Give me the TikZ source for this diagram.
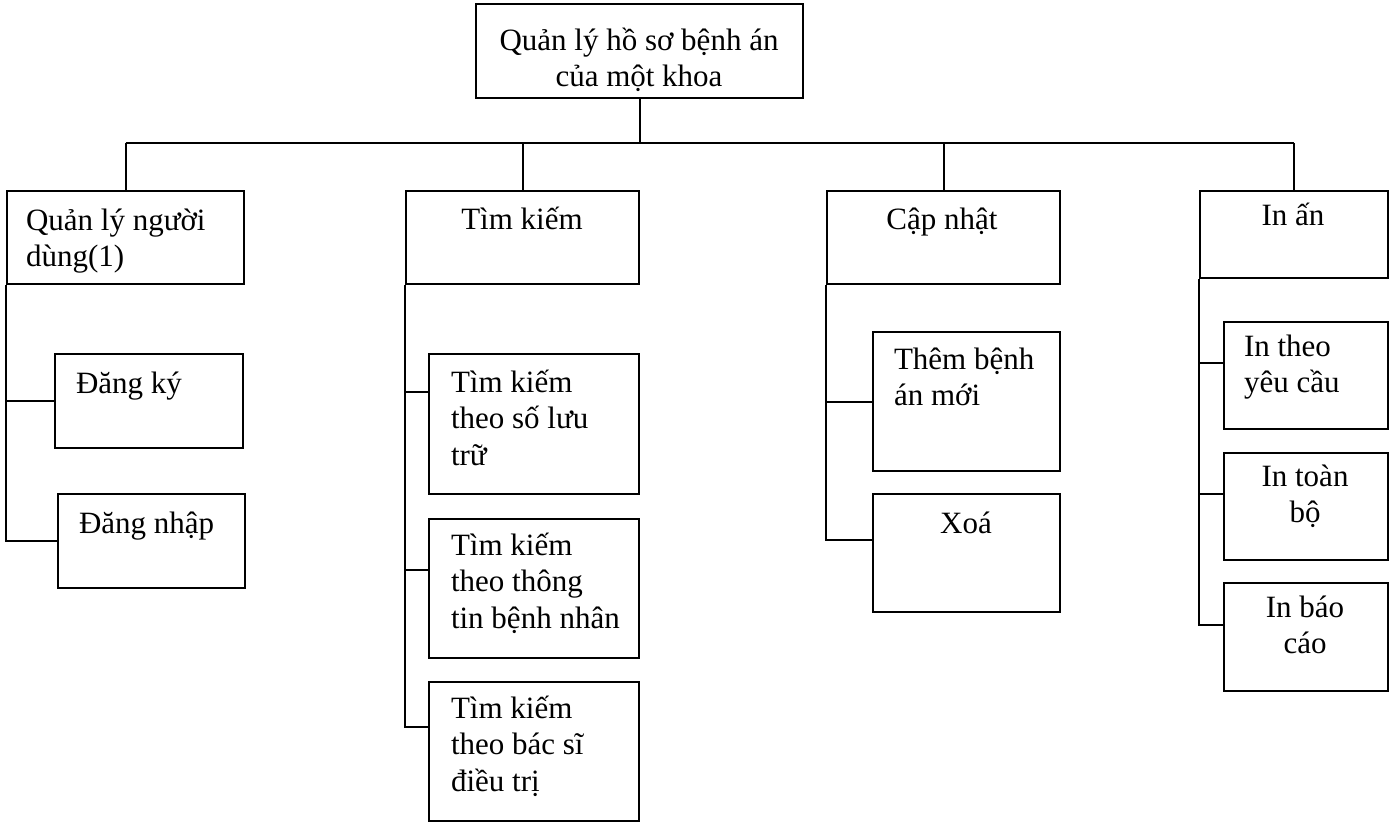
\documentclass[tikz,border=0pt]{standalone}
\usepackage{fontspec}
\setmainfont{Liberation Serif}
\begin{document}
\begin{tikzpicture}[x=1pt,y=-1pt,line width=2pt,
  box/.style={draw,line width=2pt,inner sep=0pt,anchor=north west},
  txt/.style={inner sep=0pt,font=\fontsize{31}{36.5}\selectfont},
  conn/.style={draw,line width=2pt}]
\useasboundingbox (0,0) rectangle (1394,823);
% boxes
\node[box,minimum width=327,minimum height=94] (top) at (475,3) {};
\node[box,minimum width=237,minimum height=93] (b1) at (6,190) {};
\node[box,minimum width=233,minimum height=93] (b2) at (405,190) {};
\node[box,minimum width=233,minimum height=93] (b3) at (826,190) {};
\node[box,minimum width=188,minimum height=87] (b4) at (1199,190) {};
\node[box,minimum width=188,minimum height=94] (c11) at (54,353) {};
\node[box,minimum width=187,minimum height=94] (c12) at (57,493) {};
\node[box,minimum width=210,minimum height=140] (c21) at (428,353) {};
\node[box,minimum width=210,minimum height=139] (c22) at (428,518) {};
\node[box,minimum width=210,minimum height=139] (c23) at (428,681) {};
\node[box,minimum width=187,minimum height=139] (c31) at (872,331) {};
\node[box,minimum width=187,minimum height=118] (c32) at (872,493) {};
\node[box,minimum width=164,minimum height=107] (c41) at (1223,321) {};
\node[box,minimum width=164,minimum height=107] (c42) at (1223,452) {};
\node[box,minimum width=164,minimum height=108] (c43) at (1223,582) {};
% texts (anchor base = baseline of the last line)
\node[txt,align=center,anchor=base] (ttop) at (639,86.5) {Quản lý hồ sơ bệnh án\\của một khoa};
\node[txt,align=left,anchor=base west] (t1) at (25,266.5) {Quản lý người\\dùng(1)};
\node[txt,anchor=base] (t2) at (522,229) {Tìm kiếm};
\node[txt,anchor=base] (t3) at (942,229) {Cập nhật};
\node[txt,anchor=base] (t4) at (1293,225) {In ấn};
\node[txt,anchor=base west] (t11) at (75,393) {Đăng ký};
\node[txt,anchor=base west] (t12) at (78,533) {Đăng nhập};
\node[txt,align=left,anchor=base west] (t21) at (450,465) {Tìm kiếm\\theo số lưu\\trữ};
\node[txt,align=left,anchor=base west] (t22) at (450,628) {Tìm kiếm\\theo thông\\tin bệnh nhân};
\node[txt,align=left,anchor=base west] (t23) at (450,791) {Tìm kiếm\\theo bác sĩ\\điều trị};
\node[txt,align=left,anchor=base west] (t31) at (893,405.5) {Thêm bệnh\\án mới};
\node[txt,anchor=base] (t32) at (966,533) {Xoá};
\node[txt,align=left,anchor=base west] (t41) at (1243,392.5) {In theo\\yêu cầu};
\node[txt,align=center,anchor=base] (t42) at (1305,522.5) {In toàn\\bộ};
\node[txt,align=center,anchor=base] (t43) at (1305,653.5) {In báo\\cáo};
% connectors
\coordinate (trunk) at (0,143);
\draw[conn] (top.south) -- (top.south |- trunk);
\draw[conn] (b1.north |- trunk) -- (b4.north |- trunk);
\foreach \b in {b1,b2,b3,b4} \draw[conn] (\b.north |- trunk) -- (\b.north);
% branch 1
\draw[conn] (b1.south west) |- (c12.west);
\draw[conn] (b1.south west |- c11.west) -- (c11.west);
% branch 2
\coordinate (j21) at (428,392);
\coordinate (j22) at (428,570);
\coordinate (j23) at (428,727);
\draw[conn] (b2.south west) |- (j23);
\draw[conn] (b2.south west |- j21) -- (j21);
\draw[conn] (b2.south west |- j22) -- (j22);
% branch 3
\coordinate (j32) at (872,540);
\draw[conn] (b3.south west) |- (j32);
\draw[conn] (b3.south west |- c31.west) -- (c31.west);
% branch 4
\coordinate (j41) at (1223,363);
\coordinate (j42) at (1223,494);
\coordinate (j43) at (1223,625);
\draw[conn] (b4.south west) |- (j43);
\draw[conn] (b4.south west |- j41) -- (j41);
\draw[conn] (b4.south west |- j42) -- (j42);
\end{tikzpicture}
\end{document}
